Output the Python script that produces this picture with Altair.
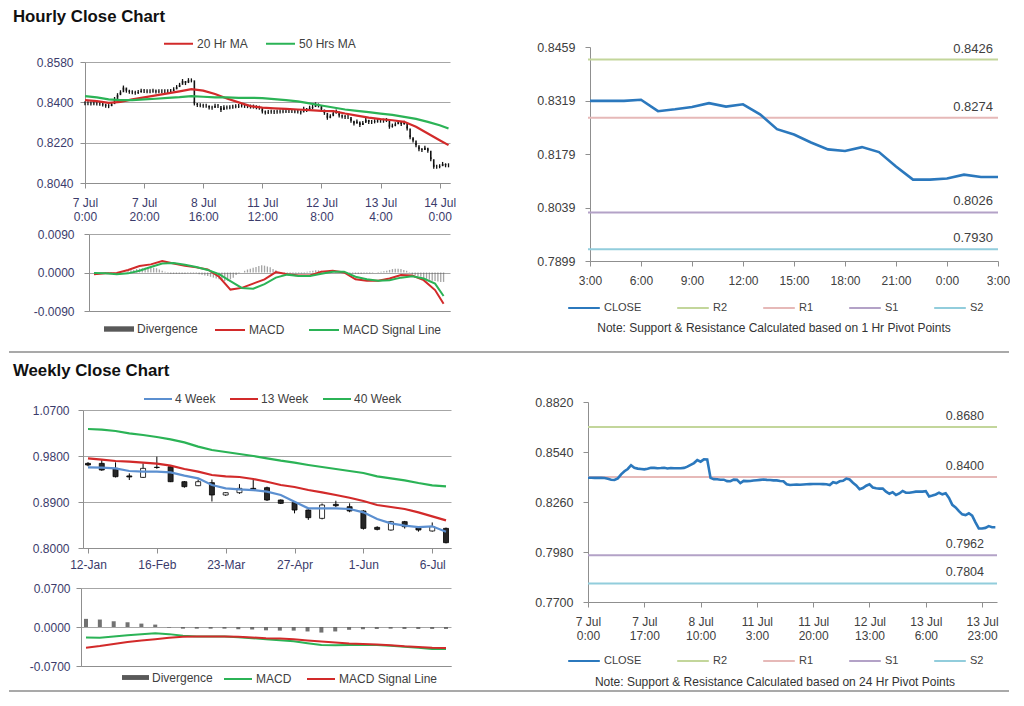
import json
import altair as alt
import pandas as pd

FONT = "Liberation Sans"
GRID = "#a6a6a6"
AXC = "#8f8f8f"
LBL_L = "#3b3b6b"
LBL_R = "#404040"
TXT = "#404040"
RED = "#d22a2a"
GREEN = "#2bb356"
W_TOTAL = 1000

section_titles = ["Hourly Close Chart", "Weekly Close Chart"]

# ---------------- hourly data ----------------
hourly_close_early = [
    0.8396, 0.8396, 0.8395, 0.8396, 0.8395, 0.8394, 0.8390, 0.8385, 0.8383, 0.8392,
    0.8415, 0.8432, 0.8445, 0.8466, 0.8452, 0.8447, 0.8445, 0.8443, 0.8446, 0.8452,
    0.8451, 0.8449, 0.8450, 0.8452, 0.8448, 0.8450, 0.8449, 0.8449, 0.8449, 0.8451,
    0.8458, 0.8468, 0.8478, 0.8495, 0.8486, 0.8499, 0.8498, 0.8395, 0.8388, 0.8387,
    0.8385, 0.8385, 0.8377, 0.8376, 0.8385, 0.8384, 0.8366, 0.8378, 0.8377, 0.8378,
    0.8380, 0.8382, 0.8384, 0.8386, 0.8384, 0.8383, 0.8381, 0.8381, 0.8378, 0.8376,
    0.8359, 0.8355, 0.8357, 0.8358, 0.8357, 0.8358, 0.8359, 0.8360, 0.8361, 0.8361,
    0.8361, 0.8360, 0.8359, 0.8355, 0.8371, 0.8366, 0.8376, 0.8379, 0.8391, 0.8386,
    0.8368, 0.8353, 0.8331, 0.8338, 0.8351, 0.8359, 0.8341, 0.8337, 0.8335, 0.8335,
    0.8318, 0.8306, 0.8315, 0.8299, 0.8308, 0.8322, 0.8312, 0.8312, 0.8315,
]
close_24h = [
    0.8318, 0.8318, 0.8318, 0.8321, 0.8291, 0.8296, 0.8302, 0.8312, 0.8303, 0.8309,
    0.8283, 0.8244, 0.8230, 0.8209, 0.8191, 0.8187, 0.8197, 0.8184, 0.8146, 0.8112,
    0.8112, 0.8115, 0.8125, 0.8119, 0.8119,
]
hourly_close = hourly_close_early + close_24h

hourly_ticks = [0, 20, 40, 60, 80, 100, 120]
hourly_tick_labels = [["7 Jul", "0:00"], ["7 Jul", "20:00"], ["8 Jul", "16:00"], ["11 Jul", "12:00"],
                      ["12 Jul", "8:00"], ["13 Jul", "4:00"], ["14 Jul", "0:00"]]

ma_idx = list(range(0, 121, 4)) + [123]
ma_names = ["20 Hr MA", "50 Hrs MA"]
ma20 = [0.8410, 0.8405, 0.8398, 0.8402, 0.8413, 0.8422, 0.8431, 0.8440, 0.8449, 0.8459,
        0.8452, 0.8437, 0.8417, 0.8400, 0.8383, 0.8376, 0.8373, 0.8371, 0.8368, 0.8365,
        0.8362, 0.8361, 0.8350, 0.8341, 0.8332, 0.8325, 0.8320, 0.8313, 0.8291, 0.8261,
        0.8231, 0.8209]
ma50 = [0.8428, 0.8422, 0.8413, 0.8410, 0.8410, 0.8413, 0.8416, 0.8420, 0.8423, 0.8428,
        0.8425, 0.8422, 0.8422, 0.8420, 0.8420, 0.8419, 0.8414, 0.8410, 0.8404, 0.8395,
        0.8386, 0.8377, 0.8368, 0.8362, 0.8356, 0.8350, 0.8344, 0.8335, 0.8326, 0.8313,
        0.8298, 0.8283]

macd_names_h = ["MACD", "MACD Signal Line"]
macd_h = [-0.0004, -0.0002, -0.0001, 0.0006, 0.0015, 0.0019, 0.0027, 0.0021, 0.0016, 0.0012,
          0.0007, -0.0010, -0.0040, -0.0036, -0.0026, -0.0016, 0.0001, -0.0004, -0.0007, -0.0007,
          0.0002, 0.0004, 0.0000, -0.0016, -0.0019, -0.0019, -0.0014, -0.0006, -0.0007, -0.0018,
          -0.0041, -0.0073]
signal_h = [-0.0001, -0.0002, -0.0004, -0.0002, 0.0004, 0.0013, 0.0021, 0.0022, 0.0018, 0.0013,
            0.0006, -0.0004, -0.0020, -0.0036, -0.0038, -0.0027, -0.0012, -0.0005, -0.0008, -0.0008,
            -0.0003, 0.0002, 0.0002, -0.0010, -0.0016, -0.0019, -0.0018, -0.0012, -0.0009, -0.0014,
            -0.0026, -0.0055]
# hourly divergence bars (one per hour)
div_h = [
    0.0000, 0.0000, 0.0000, 0.0000, 0.0001, 0.0001, 0.0001, 0.0001, 0.0000, 0.0000, 0.0000, 0.0000,
    0.0003, 0.0005, 0.0006, 0.0008, 0.0009, 0.0010, 0.0011, 0.0012, 0.0012, 0.0011, 0.0010, 0.0007,
    0.0004, 0.0002,
    -0.0002, -0.0003, -0.0003, -0.0003, -0.0003, -0.0003, -0.0003, -0.0002, -0.0002, -0.0002, -0.0002,
    -0.0004, -0.0005, -0.0007, -0.0008, -0.0010, -0.0012, -0.0014, -0.0016, -0.0018, -0.0020, -0.0019,
    -0.0016, -0.0012, -0.0006, -0.0002, 0.0000,
    0.0004, 0.0007, 0.0009, 0.0011, 0.0013, 0.0015, 0.0017, 0.0016, 0.0014, 0.0012, 0.0008, 0.0005,
    0.0001,
    -0.0002, -0.0002, -0.0002, -0.0002, -0.0002, -0.0002, -0.0002, -0.0002, -0.0002,
    0.0002, 0.0003, 0.0004, 0.0005, 0.0005, 0.0004, 0.0003, 0.0001,
    0.0000, -0.0001, -0.0001, 0.0000, -0.0001, 0.0000, -0.0001, -0.0001,
    -0.0002, -0.0003, -0.0003, -0.0003, -0.0002, -0.0002, -0.0002, -0.0001, 0.0000,
    0.0001, 0.0002, 0.0003,
    0.0004, 0.0006, 0.0008, 0.0009, 0.0009, 0.0008, 0.0006, 0.0004, 0.0001,
    -0.0004, -0.0006, -0.0008, -0.0010, -0.0013, -0.0015, -0.0017, -0.0019, -0.0020, -0.0021,
    -0.0022, -0.0022,
]

# pivot charts
pivot_names = ["CLOSE", "R2", "R1", "S1", "S2"]
pivot_colors = ["#2b78bd", "#c3d69b", "#e6b9b8", "#b3a2c7", "#92cddc"]
level_names = ["R2", "R1", "S1", "S2"]
levels_1h = [0.8426, 0.8274, 0.8026, 0.7930]
levels_24h = [0.8680, 0.8400, 0.7962, 0.7804]
hours_ticks = [0, 3, 6, 9, 12, 15, 18, 21, 24]
hours_labels = ["3:00", "6:00", "9:00", "12:00", "15:00", "18:00", "21:00", "0:00", "3:00"]
p24_ticks = [0, 17, 34, 51, 68, 85, 102, 119]
p24_labels = [["7 Jul", "0:00"], ["7 Jul", "17:00"], ["8 Jul", "10:00"], ["11 Jul", "3:00"],
              ["11 Jul", "20:00"], ["12 Jul", "13:00"], ["13 Jul", "6:00"], ["13 Jul", "23:00"]]
note_1h = "Note: Support & Resistance Calculated based on 1 Hr Pivot Points"
note_24h = "Note: Support & Resistance Calculated based on 24 Hr Pivot Points"

# ---------------- weekly data ----------------
weekly_ticks = [0, 5, 10, 15, 20, 25]
weekly_labels = ["12-Jan", "16-Feb", "23-Mar", "27-Apr", "1-Jun", "6-Jul"]
weekly_open = [0.9656, 0.9656, 0.9558, 0.9410, 0.9382, 0.9580, 0.9590, 0.9297, 0.9219, 0.9278,
               0.9037, 0.9082, 0.9167, 0.9180, 0.8939, 0.8887, 0.8743, 0.8580, 0.8854, 0.8808,
               0.8724, 0.8404, 0.8352, 0.8515, 0.8398, 0.8333, 0.8384]
weekly_high = [0.9680, 0.9735, 0.9676, 0.9460, 0.9656, 0.9787, 0.9624, 0.9310, 0.9340, 0.9340,
               0.9090, 0.9250, 0.9330, 0.9200, 0.8950, 0.8900, 0.8760, 0.8870, 0.8925, 0.8874,
               0.8740, 0.8425, 0.8530, 0.8530, 0.8410, 0.8500, 0.8400]
weekly_low = [0.9600, 0.9510, 0.9380, 0.9330, 0.9370, 0.9550, 0.9290, 0.9180, 0.9210, 0.8910,
              0.9020, 0.9060, 0.9140, 0.8920, 0.8860, 0.8678, 0.8550, 0.8560, 0.8800, 0.8700,
              0.8360, 0.8345, 0.8340, 0.8380, 0.8320, 0.8320, 0.8090]
weekly_close = [0.9624, 0.9526, 0.9395, 0.9390, 0.9558, 0.9575, 0.9297, 0.9200, 0.9297, 0.9037,
                0.9082, 0.9167, 0.9147, 0.8939, 0.8874, 0.8743, 0.8593, 0.8841, 0.8828, 0.8724,
                0.8384, 0.8365, 0.8515, 0.8417, 0.8352, 0.8417, 0.8104]
wma_names = ["4 Week", "13 Week", "40 Week"]
ma4w = [0.9578, 0.9572, 0.9558, 0.9506, 0.9493, 0.9493, 0.9480, 0.9415, 0.9363, 0.9232,
        0.9167, 0.9147, 0.9134, 0.9102, 0.9037, 0.8906, 0.8776, 0.8776, 0.8776, 0.8763,
        0.8697, 0.8567, 0.8482, 0.8437, 0.8410, 0.8424, 0.8319]
ma13w = [0.9754, 0.9728, 0.9702, 0.9689, 0.9669, 0.9650, 0.9611, 0.9545, 0.9493, 0.9428,
         0.9402, 0.9389, 0.9350, 0.9297, 0.9232, 0.9193, 0.9134, 0.9089, 0.9037, 0.8984,
         0.8919, 0.8841, 0.8802, 0.8763, 0.8697, 0.8619, 0.8541]
ma40w = [1.0328, 1.0315, 1.0289, 1.0243, 1.0211, 1.0172, 1.0126, 1.0067, 0.9983, 0.9917,
         0.9878, 0.9839, 0.9800, 0.9754, 0.9708, 0.9669, 0.9624, 0.9585, 0.9545, 0.9506,
         0.9467, 0.9402, 0.9363, 0.9324, 0.9271, 0.9226, 0.9206]
w_macd = [-0.0189, -0.0195, -0.0170, -0.0146, -0.0128, -0.0110, -0.0128, -0.0158, -0.0170, -0.0170,
          -0.0170, -0.0183, -0.0201, -0.0219, -0.0237, -0.0256, -0.0292, -0.0323, -0.0329, -0.0323,
          -0.0323, -0.0323, -0.0335, -0.0353, -0.0371, -0.0396, -0.0396]
w_signal = [-0.0371, -0.0341, -0.0304, -0.0268, -0.0243, -0.0219, -0.0195, -0.0177, -0.0170, -0.0170,
            -0.0170, -0.0177, -0.0189, -0.0201, -0.0207, -0.0219, -0.0243, -0.0262, -0.0280, -0.0298,
            -0.0304, -0.0316, -0.0329, -0.0347, -0.0359, -0.0371, -0.0377]
w_div = [0.0146, 0.0134, 0.0103, 0.0085, 0.0061, 0.0043, -0.0010, -0.0030, -0.0030, -0.0030,
         -0.0030, -0.0040, -0.0045, -0.0060, -0.0065, -0.0065, -0.0080, -0.0100, -0.0080, -0.0050,
         -0.0040, -0.0035, -0.0030, -0.0035, -0.0035, -0.0035, -0.0035]
wmacd_names = ["MACD", "MACD Signal Line"]


# ---------------- helpers ----------------
def lab_expr(ticks, labels):
    return f"{json.dumps(labels)}[indexof({json.dumps(ticks)}, datum.value)]"


def x_axis(ticks, labels, color, size=12, pad=9, offset=0):
    return alt.Axis(values=ticks, labelExpr=lab_expr(ticks, labels), grid=False,
                    domainColor=AXC, tickColor=AXC, tickSize=5, labelPadding=pad,
                    labelFont=FONT, labelFontSize=size, labelColor=color, labelLineHeight=14,
                    labelFlush=False, labelOverlap=False, title=None, offset=offset)


def y_axis(ticks, color, size=12, pad=7, grid=True, offset=0):
    return alt.Axis(values=ticks,
                    labelExpr="(datum.value < 0 ? '-' : '') + format(abs(datum.value), '.4f')",
                    grid=grid, gridColor=GRID, gridWidth=1, domainColor=AXC, tickColor=AXC,
                    tickSize=5, labelPadding=pad, labelFont=FONT, labelFontSize=size,
                    labelColor=color, labelFlush=False, labelOverlap=False, title=None,
                    offset=offset)


def blank_x():
    return alt.Axis(labels=False, ticks=False, grid=False, domainColor=AXC, title=None)


def line_legend(x, y, fsize, sym, pad, n, offset=3):
    return alt.Legend(orient="none", legendX=x, legendY=y, direction="horizontal", columns=n,
                      title=None, symbolType="stroke", symbolSize=sym, symbolStrokeWidth=2,
                      labelFont=FONT, labelFontSize=fsize, labelColor=TXT, labelOffset=offset,
                      columnPadding=pad)


def bar_legend(x, y, sym):
    return alt.Legend(orient="none", legendX=x, legendY=y, title=None,
                      symbolType="M-1,-0.18H1V0.18H-1Z", symbolSize=sym, symbolStrokeWidth=0,
                      symbolOpacity=1, labelFont=FONT, labelFontSize=12, labelColor=TXT, labelOffset=3)


def spacer(w, h):
    return alt.Chart(pd.DataFrame({"s": [""]})).mark_text(
        align="left", baseline="top", fontSize=1).encode(
        x=alt.value(0), y=alt.value(0), text="s:N").properties(width=w, height=h)


def section_title(text, x, y):
    return alt.Chart(pd.DataFrame({"t": [text]})).mark_text(
        align="left", baseline="alphabetic", font=FONT, fontSize=16.8, fontWeight="bold",
        color="#111111").encode(x=alt.value(x), y=alt.value(y), text="t:N")


def separator(x0, x1, y):
    return alt.Chart(pd.DataFrame({"s": [0]})).mark_rule(color="#8c8c8c", strokeWidth=1.5).encode(
        x=alt.value(x0), x2=alt.value(x1), y=alt.value(y))


# Grid (chart pixels): column 0 = 72 wide, column 1 = 507 wide, column 2 = right panels.
# Each panel sits at its cell's top-left; range offsets shift its plot inside the cell.

# ---------------- hourly price (left top) ----------------
HP_OFF = 4
X_H = alt.Scale(domain=[0, 123.5], range=[HP_OFF, HP_OFF + 365], nice=False, zero=False)
hx_axis = x_axis(hourly_ticks, hourly_tick_labels, LBL_L, pad=9)
HP_Y = alt.Scale(domain=[0.804, 0.858], nice=False, zero=False)
hp_y_axis = y_axis([0.804, 0.822, 0.840, 0.858], LBL_L, pad=7, offset=-HP_OFF)

hdf = pd.DataFrame({"idx": list(range(len(hourly_close))), "close": hourly_close})
candles = (alt.Chart(hdf)
           .transform_window(prev="lag(close)", sort=[alt.SortField("idx")])
           .transform_calculate(open="isValid(datum.prev) ? datum.prev : datum.close")
           .mark_rule(color="#111111", strokeWidth=1.6)
           .encode(x=alt.X("idx:Q", scale=X_H, axis=hx_axis),
                   y=alt.Y("open:Q", scale=HP_Y, axis=hp_y_axis), y2="close:Q"))
candle_ticks = alt.Chart(hdf).mark_tick(orient="vertical", size=4, thickness=1.3, color="#111111",
                                        opacity=1).encode(
    x=alt.X("idx:Q", scale=X_H, axis=hx_axis),
    y=alt.Y("close:Q", scale=HP_Y, axis=hp_y_axis))
madf = pd.DataFrame({"idx": ma_idx + ma_idx, "value": ma20 + ma50,
                     "series": [ma_names[0]] * len(ma20) + [ma_names[1]] * len(ma50)})
ma_lines = alt.Chart(madf).mark_line(strokeWidth=2.2).encode(
    x=alt.X("idx:Q", scale=X_H, axis=hx_axis),
    y=alt.Y("value:Q", scale=HP_Y, axis=hp_y_axis),
    color=alt.Color("series:N", scale=alt.Scale(domain=ma_names, range=[RED, GREEN]),
                    legend=line_legend(82, -34, 12, 841, 14, 2)))
hourly_price = alt.layer(candles, candle_ticks, ma_lines,
                         section_title(section_titles[0], -68, -40)).properties(
    width=HP_OFF + 365, height=121)

# ---------------- hourly MACD ----------------
HM_OFF = 8
HM_X = alt.Scale(domain=[0, 123.5], range=[HM_OFF, HM_OFF + 361], nice=False, zero=False)
HM_Y = alt.Scale(domain=[-0.009, 0.009], nice=False, zero=False)
hm_y_axis = y_axis([-0.009, 0, 0.009], LBL_L, pad=10, offset=-HM_OFF)
hdiv_df = pd.DataFrame({"idx": list(range(len(div_h))), "div": div_h})
hdiv = (alt.Chart(hdiv_df)
        .transform_calculate(zero="0", lab="'Divergence'")
        .mark_bar(size=1.3, opacity=0.55)
        .encode(x=alt.X("idx:Q", scale=HM_X, axis=blank_x()),
                y=alt.Y("div:Q", scale=HM_Y, axis=hm_y_axis), y2="zero:Q",
                fill=alt.Fill("lab:N", scale=alt.Scale(domain=["Divergence"], range=["#595959"]),
                              legend=bar_legend(23, 80, 900))))
hml_df = pd.DataFrame({"idx": ma_idx + ma_idx, "value": macd_h + signal_h,
                       "series": [macd_names_h[0]] * len(macd_h) + [macd_names_h[1]] * len(signal_h)})
hmlines = alt.Chart(hml_df).mark_line(strokeWidth=2).encode(
    x=alt.X("idx:Q", scale=HM_X, axis=blank_x()),
    y=alt.Y("value:Q", scale=HM_Y, axis=hm_y_axis),
    color=alt.Color("series:N", scale=alt.Scale(domain=macd_names_h, range=[RED, GREEN]),
                    legend=line_legend(133, 80, 12, 900, 20, 2)))
hourly_macd = alt.layer(hdiv, hmlines, separator(-72, W_TOTAL - 72, 118)).properties(
    width=HM_OFF + 361, height=77)


# ---------------- pivot charts ----------------
def pivot_chart(close_vals, xdom, xticks, xlabels, ydom, yticks, levels, note, x_off, y_off, w, h_draw,
                h_decl, leg_x, leg_y, note_x, note_y, lab_x, lab_size):
    sc_x = alt.Scale(domain=xdom, range=[x_off, x_off + w], nice=False, zero=False)
    ax_x = x_axis(xticks, xlabels, LBL_R, pad=9, offset=y_off + h_draw - h_decl)
    sc_y = alt.Scale(domain=ydom, range=[y_off + h_draw, y_off], nice=False, zero=False)
    ax_y = y_axis(yticks, LBL_R, size=12.5, pad=10, grid=False, offset=-x_off)
    col = alt.Color("series:N", scale=alt.Scale(domain=pivot_names, range=pivot_colors),
                    legend=line_legend(leg_x, y_off + leg_y, 11, 1000, 31, 5))
    cdf = pd.DataFrame({"idx": list(range(len(close_vals))), "value": close_vals,
                        "series": ["CLOSE"] * len(close_vals)})
    ldf = pd.DataFrame({"series": level_names, "value": levels})
    rules = alt.Chart(ldf).mark_rule(strokeWidth=2).encode(
        y=alt.Y("value:Q", scale=sc_y, axis=ax_y), color=col)
    line = alt.Chart(cdf).mark_line(strokeWidth=2.6).encode(
        x=alt.X("idx:Q", scale=sc_x, axis=ax_x),
        y=alt.Y("value:Q", scale=sc_y, axis=ax_y), color=col)
    labels = alt.Chart(ldf).mark_text(align="right", baseline="middle", dy=-11, font=FONT,
                                      fontSize=lab_size, color=TXT).encode(
        x=alt.value(lab_x), y=alt.Y("value:Q", scale=sc_y, axis=ax_y),
        text=alt.Text("value:Q", format=".4f"))
    note_txt = alt.Chart(pd.DataFrame({"n": [note]})).mark_text(
        align="center", baseline="middle", font=FONT, fontSize=12, color="#333333").encode(
        x=alt.value(note_x), y=alt.value(y_off + note_y), text="n:N")
    return alt.layer(rules, line, labels, note_txt).properties(width=x_off + w, height=h_decl)


right_top = pivot_chart(close_24h, [0, 24], hours_ticks, hours_labels,
                        [0.7899, 0.8459], [0.7899, 0.8039, 0.8179, 0.8319, 0.8459],
                        levels_1h, note_1h, 2, 39, 408, 214, 20, -21, 244, 186, 281, 405, 13)
right_bottom = pivot_chart(hourly_close, [0, 123.5], p24_ticks, p24_labels,
                           [0.77, 0.882], [0.77, 0.798, 0.826, 0.854, 0.882],
                           levels_24h, note_24h, 0, 91, 409, 200, 20, -21, 242, 187, 280, 396, 12.5)

# ---------------- weekly price ----------------
WP_OFF = 2
W_X = alt.Scale(domain=[0, 26], range=[WP_OFF, WP_OFF + 368], nice=False, zero=False)
wx_axis = x_axis(weekly_ticks, weekly_labels, LBL_L, pad=6)
W_Y = alt.Scale(domain=[0.80, 1.07], nice=False, zero=False)
wy_axis = y_axis([0.80, 0.89, 0.98, 1.07], LBL_L, pad=9, offset=-WP_OFF)
wdf = pd.DataFrame({"idx": list(range(len(weekly_close))), "open": weekly_open,
                    "high": weekly_high, "low": weekly_low, "close": weekly_close})
wick = alt.Chart(wdf).mark_rule(color="#000000", strokeWidth=1).encode(
    x=alt.X("idx:Q", scale=W_X, axis=wx_axis),
    y=alt.Y("low:Q", scale=W_Y, axis=wy_axis), y2="high:Q")
body = alt.Chart(wdf).mark_bar(size=5, stroke="#000000", strokeWidth=0.8).encode(
    x=alt.X("idx:Q", scale=W_X, axis=wx_axis),
    y=alt.Y("open:Q", scale=W_Y, axis=wy_axis), y2="close:Q",
    fill=alt.condition("datum.close >= datum.open", alt.value("#ffffff"), alt.value("#262626")))
n_w = len(weekly_close)
wma_df = pd.DataFrame({"idx": list(range(n_w)) * 3, "value": ma4w + ma13w + ma40w,
                       "series": [wma_names[0]] * n_w + [wma_names[1]] * n_w + [wma_names[2]] * n_w})
wma = alt.Chart(wma_df).mark_line(strokeWidth=2.2).encode(
    x=alt.X("idx:Q", scale=W_X, axis=wx_axis),
    y=alt.Y("value:Q", scale=W_Y, axis=wy_axis),
    color=alt.Color("series:N", scale=alt.Scale(domain=wma_names, range=["#5b8fd0", RED, GREEN]),
                    legend=line_legend(62, -26, 12, 784, 10, 3, offset=2)))
weekly_price = alt.layer(wick, body, wma, section_title(section_titles[1], -68, -34)).properties(
    width=WP_OFF + 368, height=138)

# ---------------- weekly MACD ----------------
WM_X = alt.Scale(domain=[0, 26], range=[0, 370], nice=False, zero=False)
WM_Y = alt.Scale(domain=[-0.07, 0.07], nice=False, zero=False)
wm_y_axis = y_axis([-0.07, 0, 0.07], LBL_L, pad=6)
wdiv_df = pd.DataFrame({"idx": list(range(len(w_div))), "div": w_div})
wdiv = (alt.Chart(wdiv_df)
        .transform_calculate(zero="0", lab="'Divergence'")
        .mark_bar(size=4, opacity=0.85)
        .encode(x=alt.X("idx:Q", scale=WM_X, axis=blank_x()),
                y=alt.Y("div:Q", scale=WM_Y, axis=wm_y_axis), y2="zero:Q",
                fill=alt.Fill("lab:N", scale=alt.Scale(domain=["Divergence"], range=["#595959"]),
                              legend=bar_legend(41, 76, 729))))
wml_df = pd.DataFrame({"idx": list(range(len(w_macd))) * 2, "value": w_macd + w_signal,
                       "series": [wmacd_names[0]] * len(w_macd) + [wmacd_names[1]] * len(w_signal)})
wmlines = alt.Chart(wml_df).mark_line(strokeWidth=2).encode(
    x=alt.X("idx:Q", scale=WM_X, axis=blank_x()),
    y=alt.Y("value:Q", scale=WM_Y, axis=wm_y_axis),
    color=alt.Color("series:N", scale=alt.Scale(domain=wmacd_names, range=[GREEN, RED]),
                    legend=line_legend(142, 76, 12, 784, 11, 2)))
weekly_macd = alt.layer(wdiv, wmlines, separator(-72, W_TOTAL - 72, 103)).properties(width=370, height=78)

# ---------------- layout: 3-column grid ----------------
cells = [
    spacer(72, 54), spacer(507, 0), right_top,
    spacer(0, 0), hourly_price, spacer(0, 0),
    spacer(0, 51), spacer(0, 0), spacer(0, 0),
    spacer(0, 0), hourly_macd, spacer(0, 0),
    spacer(0, 99), spacer(0, 0), right_bottom,
    spacer(0, 0), weekly_price, spacer(0, 0),
    spacer(0, 40), spacer(0, 0), spacer(0, 0),
    spacer(0, 0), weekly_macd, spacer(0, 0),
]

chart = (alt.concat(*cells, columns=3, spacing=0, bounds="flush")
         .resolve_scale(color="independent", fill="independent")
         .resolve_legend(color="independent", fill="independent")
         .properties(padding=0)
         .configure_view(stroke=None))

chart.save("out.html", embed_options={"renderer": "svg", "actions": False})
